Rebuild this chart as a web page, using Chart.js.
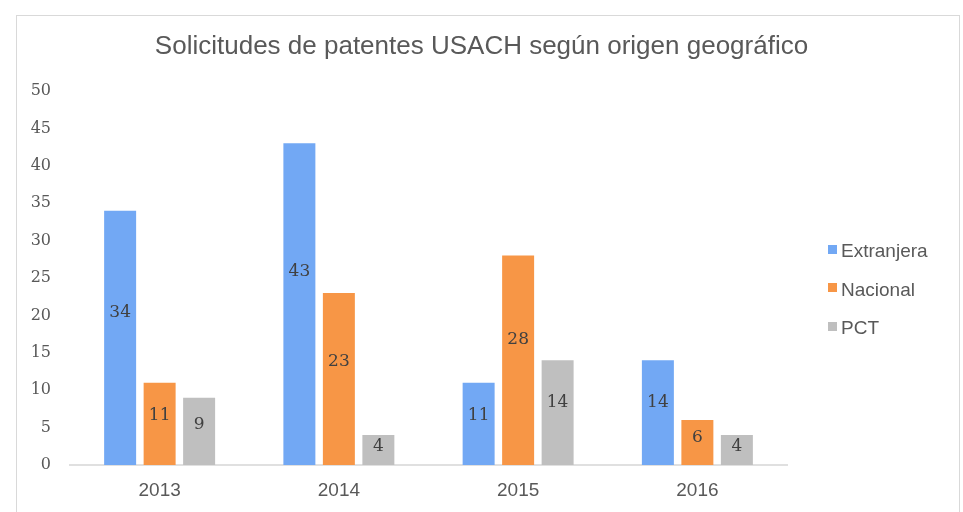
<!DOCTYPE html>
<html>
<head>
<meta charset="utf-8">
<script src="https://cdn.jsdelivr.net/npm/chart.js@4.4.1/dist/chart.umd.min.js"></script>
<style>
  html, body { margin: 0; padding: 0; background: #fff; }
  body { width: 963px; height: 512px; position: relative; overflow: hidden; }
  #frame { position: absolute; left: 16px; top: 15px; width: 944px; height: 600px;
           border: 1px solid #d9d9d9; box-sizing: border-box; }
  #chart { position: absolute; left: 0; top: 0; }
  #legend { position: absolute; left: 828px; top: 240px; font: 19px "Liberation Sans", Arial, sans-serif;
            color: #595959; }
  #legend .item { display: flex; align-items: center; height: 22px; margin-bottom: 16.5px; }
  #legend .box { width: 9px; height: 9px; margin-right: 4px; margin-top: -4px; }
</style>
</head>
<body>
<div id="frame"></div>
<canvas id="chart" width="963" height="512"></canvas>
<div id="legend"></div>
<script>
/* ---------- DATA ---------- */
const years = ["2013", "2014", "2015", "2016"];
const extranjera = [34, 43, 11, 14];
const nacional = [11, 23, 28, 6];
const pct = [9, 4, 14, 4];
const yTicks = [0, 5, 10, 15, 20, 25, 30, 35, 40, 45, 50];

const seriesNames = ["Extranjera", "Nacional", "PCT"];
const seriesColors = ["#72A8F4", "#F79646", "#BFBFBF"];

/* ---------- LABELS INSIDE BARS ---------- */
const barLabels = {
  id: "barLabels",
  afterDatasetsDraw(chart) {
    const ctx = chart.ctx;
    ctx.save();
    ctx.font = '17px "DejaVu Serif", serif';
    ctx.fillStyle = "#404040";
    ctx.textAlign = "center";
    ctx.textBaseline = "middle";
    chart.data.datasets.forEach((ds, i) => {
      chart.getDatasetMeta(i).data.forEach((bar, j) => {
        const y = bar.base + (bar.y - bar.base) * 0.6;
        ctx.fillText(ds.data[j], bar.x, y);
      });
    });
    ctx.restore();
  }
};

/* ---------- CHART ---------- */
const chart = new Chart(document.getElementById("chart"), {
  type: "bar",
  data: {
    labels: years,
    datasets: [
      { label: seriesNames[0], data: extranjera, backgroundColor: seriesColors[0] },
      { label: seriesNames[1], data: nacional, backgroundColor: seriesColors[1] },
      { label: seriesNames[2], data: pct, backgroundColor: seriesColors[2] }
    ]
  },
  options: {
    responsive: false,
    animation: false,
    categoryPercentage: 0.661,
    barPercentage: 0.81,
    layout: { padding: 0 },
    plugins: {
      legend: { display: false },
      tooltip: { enabled: false },
      title: {
        display: true,
        text: "Solicitudes de patentes USACH según origen geográfico",
        color: "#595959",
        font: { family: '"Liberation Sans", Arial, sans-serif', size: 26, weight: "normal" },
        padding: { top: 31, bottom: 28.8 }
      }
    },
    scales: {
      x: {
        grid: { display: false, drawTicks: false },
        border: { display: true, color: "#e0e0e0", width: 2 },
        ticks: { color: "#595959", padding: 14,
                 font: { family: '"Liberation Sans", Arial, sans-serif', size: 19 } },
        afterFit(s) { s.height = 47; }
      },
      y: {
        min: 0, max: 50,
        grid: { display: false, drawTicks: false },
        border: { display: false },
        afterBuildTicks(s) { s.ticks = yTicks.map(v => ({ value: v })); },
        ticks: { color: "#595959", padding: 19,
                 font: { family: '"DejaVu Serif", serif', size: 16 } },
        afterFit(s) { s.width = 70; }
      },
      // empty right axis: keeps room for the legend, title stays centred on the frame
      side: {
        position: "right",
        grid: { display: false, drawTicks: false },
        border: { display: false },
        ticks: { display: false },
        afterFit(s) { s.width = 176; }
      }
    }
  },
  plugins: [barLabels]
});

/* ---------- LEGEND ---------- */
const legend = document.getElementById("legend");
seriesNames.forEach((name, i) => {
  const item = document.createElement("div");
  item.className = "item";
  item.innerHTML = '<span class="box" style="background:' + seriesColors[i] + '"></span>' + name;
  legend.appendChild(item);
});
</script>
</body>
</html>
